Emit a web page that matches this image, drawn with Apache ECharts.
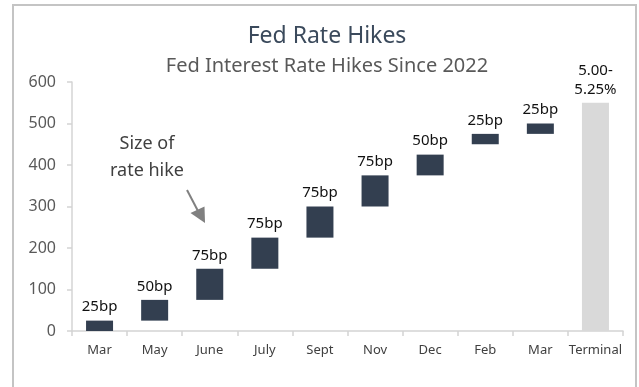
<!DOCTYPE html>
<html>
<head>
<meta charset="utf-8">
<script src="https://cdn.jsdelivr.net/npm/echarts@6/dist/echarts.min.js"></script>
<style>
html,body{margin:0;padding:0;background:#fff;}
#main{width:639px;height:387px;}
</style>
</head>
<body>
<div id="main"></div>
<script>
const categories = ['Mar','May','June','July','Sept','Nov','Dec','Feb','Mar','Terminal'];
const baseValues = [0, 25, 75, 150, 225, 300, 375, 450, 475, 0];
const hikeValues = [25, 50, 75, 75, 75, 75, 50, 25, 25, 550];
const hikeLabels = ['25bp','50bp','75bp','75bp','75bp','75bp','50bp','25bp','25bp','5.00-\n5.25%'];
const yTicks = [0, 100, 200, 300, 400, 500, 600];

const FONT = 'Noto Sans';
const chart = echarts.init(document.getElementById('main'));

const hikeData = hikeValues.map((v, i) => i === categories.length - 1
  ? { value: v, itemStyle: { color: '#d9d9d9' } }
  : v);

chart.setOption({
  animation: false,
  backgroundColor: '#fff',
  textStyle: { fontFamily: FONT },
  title: [
    { text: 'Fed Rate Hikes', left: 322, top: 20, textAlign: 'center',
      textStyle: { fontFamily: FONT, fontSize: 23, fontWeight: 'normal', color: '#3b4a5c' } },
    { text: 'Fed Interest Rate Hikes Since 2022', left: 322, top: 51, textAlign: 'center',
      textStyle: { fontFamily: FONT, fontSize: 20, fontWeight: 'normal', color: '#595959' } }
  ],
  grid: { left: 72, right: 16, top: 82, bottom: 56, containLabel: false },
  xAxis: {
    type: 'category',
    data: categories,
    boundaryGap: true,
    axisLine: { show: true, lineStyle: { color: '#d4d4d4', width: 1.5 } },
    axisTick: { show: true, length: 5, interval: 0, lineStyle: { color: '#d4d4d4', width: 1.5 } },
    axisLabel: { fontFamily: FONT, fontSize: 13, color: '#404040', margin: 13, interval: 0 }
  },
  yAxis: {
    type: 'value',
    min: yTicks[0],
    max: yTicks[yTicks.length - 1],
    interval: 100,
    splitLine: { show: false },
    axisLine: { show: true, lineStyle: { color: '#d4d4d4', width: 1.5 } },
    axisTick: { show: true, length: 5, lineStyle: { color: '#d4d4d4', width: 1.5 } },
    axisLabel: { fontFamily: FONT, fontSize: 16, color: '#595959', margin: 16 }
  },
  series: [
    {
      name: 'base', type: 'bar', stack: 'w', barWidth: 27,
      itemStyle: { color: 'rgba(0,0,0,0)' },
      emphasis: { disabled: true },
      data: baseValues
    },
    {
      name: 'hike', type: 'bar', stack: 'w', barWidth: 27,
      itemStyle: { color: '#333f50' },
      label: {
        show: true, position: 'top', distance: 4,
        fontFamily: FONT, fontSize: 15, color: '#111', lineHeight: 19,
        formatter: p => hikeLabels[p.dataIndex]
      },
      data: hikeData
    }
  ],
  graphic: [
    { type: 'rect', shape: { x: 13, y: 5, width: 623, height: 400 },
      style: { fill: 'none', stroke: '#c4c4c4', lineWidth: 2 }, silent: true, z: -1 },
    { type: 'text', x: 147, y: 130, style: {
        text: 'Size of\nrate hike', fontFamily: FONT, fontSize: 18, lineHeight: 27,
        fill: '#404040', align: 'center', verticalAlign: 'top' } },
    { type: 'line', shape: { x1: 187, y1: 190, x2: 198, y2: 211 },
      style: { stroke: '#808080', lineWidth: 2 } },
    { type: 'polygon', shape: { points: [[190.5, 213], [204.5, 206.5], [205, 223]] },
      style: { fill: '#808080' } }
  ]
});
</script>
</body>
</html>
